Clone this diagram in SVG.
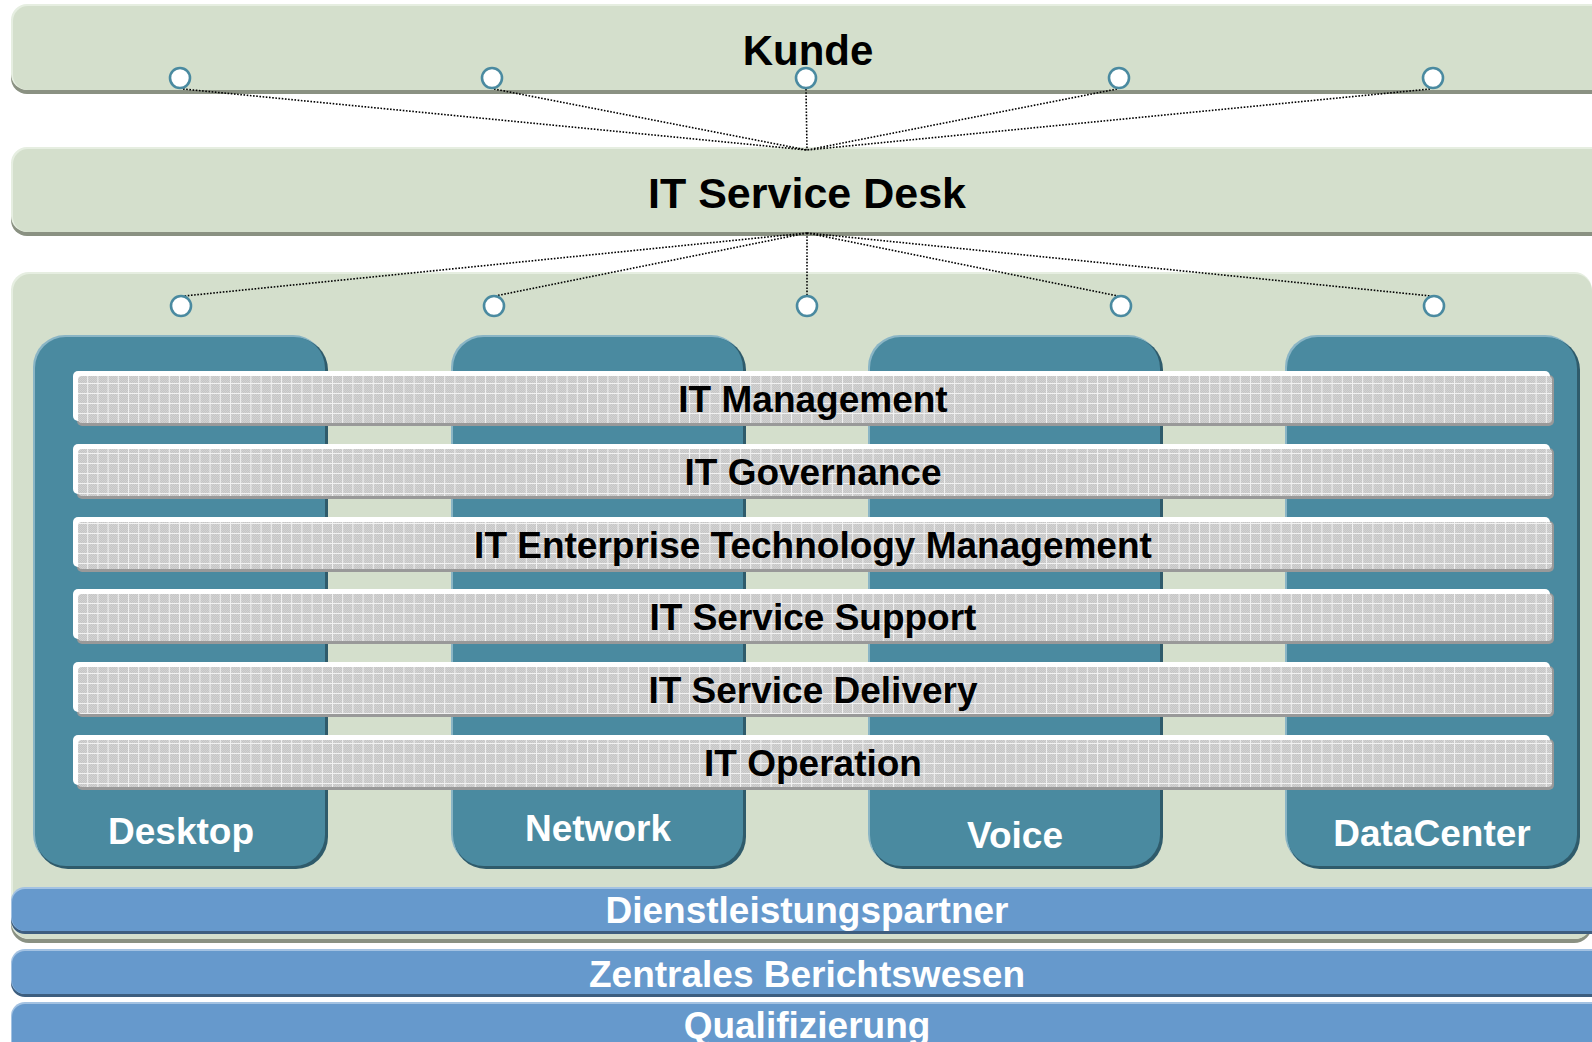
<svg xmlns="http://www.w3.org/2000/svg" width="1592" height="1042" viewBox="0 0 1592 1042">
<defs>
<pattern id="dither" width="2" height="2" patternUnits="userSpaceOnUse">
<rect width="2" height="2" fill="#C6C6C6"/>
<rect width="1" height="1" fill="#D2D2D2"/>
<rect x="1" y="1" width="1" height="1" fill="#D2D2D2"/>
</pattern>
<pattern id="grid" x="77" y="373" width="10.2" height="10" patternUnits="userSpaceOnUse">
<rect x="0" y="0" width="10.2" height="1" fill="#F2F2F2"/>
<rect x="0" y="0" width="1" height="10" fill="#F2F2F2"/>
</pattern>
<style>
.band{fill:#D4DFCC}
.bandtop{fill:#E6EEE1}
.bandbot{fill:#8A9182}
.col{fill:#4A8AA0}
.colhi{fill:#8AB5C5}
.collo{fill:#2F5B6B}
.blue{fill:#6699CC}
.bluehi{fill:#A3C2E2}
.bluelo{fill:#3D5E7F}
.barsh{fill:#999999}
.barhi{fill:#FFFFFF}
.bardi{fill:url(#dither)}
.bargr{fill:url(#grid)}
.node circle{fill:#FFFFFF;stroke:#4A8AA0;stroke-width:2.6}
.t{font-family:"Liberation Sans",Arial,sans-serif;font-weight:bold;text-anchor:middle}
.big{font-size:42px;fill:#000}
.bar{font-size:37px;fill:#000}
.wt{font-size:37px;fill:#FFFFFF}
.dots{fill:none;stroke:#000;stroke-width:1.6;stroke-dasharray:1.6 1.6}
</style>
</defs>
<rect width="1592" height="1042" fill="#FFFFFF"/>

<g id="kunde">
<rect class="bandbot" x="11" y="8" width="1600" height="86" rx="16"/>
<rect class="bandtop" x="11" y="4" width="1600" height="86" rx="16"/>
<rect class="band" x="13" y="6" width="1600" height="84" rx="15"/>
<text class="t big" x="808" y="65">Kunde</text>
</g>

<g id="service-desk">
<rect class="bandbot" x="11" y="151" width="1600" height="85" rx="16"/>
<rect class="bandtop" x="11" y="147" width="1600" height="85" rx="16"/>
<rect class="band" x="13" y="149" width="1600" height="83" rx="15"/>
<text class="t big" x="807" y="208" style="font-size:43px">IT Service Desk</text>
</g>

<g id="panel">
<rect class="bandbot" x="11" y="276" width="1581" height="667" rx="18"/>
<rect class="bandtop" x="11" y="272" width="1581" height="667" rx="18"/>
<rect class="band" x="13" y="274" width="1579" height="665" rx="17"/>
</g>

<g id="col-desktop">
<rect class="colhi" x="33" y="335" width="292" height="531" rx="32"/>
<rect class="collo" x="36" y="338" width="292" height="531" rx="32"/>
<rect class="col" x="35" y="337" width="290" height="529" rx="31"/>
<text class="t wt" x="181" y="844">Desktop</text>
</g>
<g id="col-network">
<rect class="colhi" x="451" y="335" width="292" height="531" rx="32"/>
<rect class="collo" x="454" y="338" width="292" height="531" rx="32"/>
<rect class="col" x="453" y="337" width="290" height="529" rx="31"/>
<text class="t wt" x="598" y="841">Network</text>
</g>
<g id="col-voice">
<rect class="colhi" x="868" y="335" width="292" height="531" rx="32"/>
<rect class="collo" x="871" y="338" width="292" height="531" rx="32"/>
<rect class="col" x="870" y="337" width="290" height="529" rx="31"/>
<text class="t wt" x="1015" y="848">Voice</text>
</g>
<g id="col-datacenter">
<rect class="colhi" x="1285" y="335" width="292" height="531" rx="32"/>
<rect class="collo" x="1288" y="338" width="292" height="531" rx="32"/>
<rect class="col" x="1287" y="337" width="290" height="529" rx="31"/>
<text class="t wt" x="1432" y="846">DataCenter</text>
</g>

<g id="bar-management">
<rect class="barsh" x="77" y="375" width="1477" height="51" rx="5"/>
<rect class="barhi" x="73" y="371" width="1477" height="50" rx="5"/>
<rect class="bardi" x="78" y="376" width="1474" height="47" rx="4"/>
<rect class="bargr" x="78" y="376" width="1474" height="47" rx="4"/>
<text class="t bar" x="813" y="412">IT Management</text>
</g>
<g id="bar-governance">
<rect class="barsh" x="77" y="448" width="1477" height="51" rx="5"/>
<rect class="barhi" x="73" y="444" width="1477" height="50" rx="5"/>
<rect class="bardi" x="78" y="449" width="1474" height="47" rx="4"/>
<rect class="bargr" x="78" y="449" width="1474" height="47" rx="4"/>
<text class="t bar" x="813" y="485">IT Governance</text>
</g>
<g id="bar-etm">
<rect class="barsh" x="77" y="521" width="1477" height="51" rx="5"/>
<rect class="barhi" x="73" y="517" width="1477" height="50" rx="5"/>
<rect class="bardi" x="78" y="522" width="1474" height="47" rx="4"/>
<rect class="bargr" x="78" y="522" width="1474" height="47" rx="4"/>
<text class="t bar" x="813" y="558">IT Enterprise Technology Management</text>
</g>
<g id="bar-support">
<rect class="barsh" x="77" y="593" width="1477" height="51" rx="5"/>
<rect class="barhi" x="73" y="589" width="1477" height="50" rx="5"/>
<rect class="bardi" x="78" y="594" width="1474" height="47" rx="4"/>
<rect class="bargr" x="78" y="594" width="1474" height="47" rx="4"/>
<text class="t bar" x="813" y="630">IT Service Support</text>
</g>
<g id="bar-delivery">
<rect class="barsh" x="77" y="666" width="1477" height="51" rx="5"/>
<rect class="barhi" x="73" y="662" width="1477" height="50" rx="5"/>
<rect class="bardi" x="78" y="667" width="1474" height="47" rx="4"/>
<rect class="bargr" x="78" y="667" width="1474" height="47" rx="4"/>
<text class="t bar" x="813" y="703">IT Service Delivery</text>
</g>
<g id="bar-operation">
<rect class="barsh" x="77" y="739" width="1477" height="51" rx="5"/>
<rect class="barhi" x="73" y="735" width="1477" height="50" rx="5"/>
<rect class="bardi" x="78" y="740" width="1474" height="47" rx="4"/>
<rect class="bargr" x="78" y="740" width="1474" height="47" rx="4"/>
<text class="t bar" x="813" y="776">IT Operation</text>
</g>

<g id="dienstleistungspartner">
<rect class="bluelo" x="11" y="890" width="1600" height="44" rx="14"/>
<rect class="bluehi" x="11" y="887" width="1600" height="44" rx="14"/>
<rect class="blue" x="12" y="889" width="1600" height="42" rx="13"/>
<text class="t wt" x="807" y="923">Dienstleistungspartner</text>
</g>
<g id="zentrales-berichtswesen">
<rect class="bluelo" x="11" y="952" width="1600" height="45" rx="14"/>
<rect class="bluehi" x="11" y="949" width="1600" height="45" rx="14"/>
<rect class="blue" x="12" y="951" width="1600" height="43" rx="13"/>
<text class="t wt" x="807" y="987">Zentrales Berichtswesen</text>
</g>
<g id="qualifizierung">
<rect class="bluehi" x="11" y="1002" width="1600" height="60" rx="14"/>
<rect class="blue" x="12" y="1004" width="1600" height="58" rx="13"/>
<text class="t wt" x="807" y="1038">Qualifizierung</text>
</g>

<g id="connectors">
<path class="dots" d="M183,89 L807,150 M494,89 L807,150 M806,89 L807,150 M1117,89 L807,150 M1430,89 L807,150"/>
<path class="dots" d="M807,233 L184,296 M807,233 L495,296 M807,233 L807,296 M807,233 L1118,296 M807,233 L1431,296"/>
</g>

<g id="ports-kunde" class="node">
<circle cx="180" cy="78" r="10"/>
<circle cx="492" cy="78" r="10"/>
<circle cx="806" cy="78" r="10"/>
<circle cx="1119" cy="78" r="10"/>
<circle cx="1433" cy="78" r="10"/>
</g>
<g id="ports-panel" class="node">
<circle cx="181" cy="306" r="10"/>
<circle cx="494" cy="306" r="10"/>
<circle cx="807" cy="306" r="10"/>
<circle cx="1121" cy="306" r="10"/>
<circle cx="1434" cy="306" r="10"/>
</g>
</svg>
